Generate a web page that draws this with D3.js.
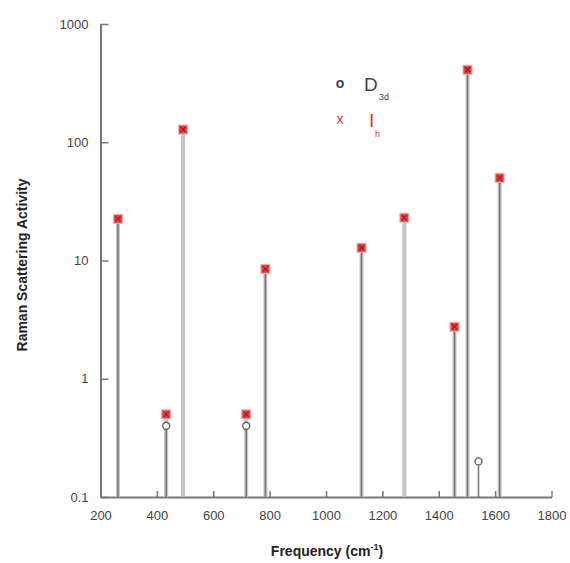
<!DOCTYPE html>
<html><head><meta charset="utf-8">
<script src="https://cdn.jsdelivr.net/npm/d3@7"></script>
<style>body{margin:0;background:#fff}svg{display:block}text{font-family:"Liberation Sans",Arial,sans-serif}</style>
</head><body>
<script>
// Data
const ihFreq = [262, 433, 493, 717, 785, 1126, 1278, 1456, 1502, 1616];
const ihValue = [22.5, 0.5, 128, 0.5, 8.5, 12.8, 23, 2.75, 410, 50];
const d3dFreq = [262, 433, 717, 785, 1126, 1456, 1502, 1541, 1616];
const d3dValue = [22.5, 0.4, 0.4, 8.5, 12.8, 2.75, 410, 0.2, 50];
const xTicks = [200, 400, 600, 800, 1000, 1200, 1400, 1600, 1800];
const yTicks = [0.1, 1, 10, 100, 1000];
const yTickLabels = ["0.1", "1", "10", "100", "1000"];

const W = 570, H = 563;
const svg = d3.select("body").append("svg").attr("width", W).attr("height", H);
const x = d3.scaleLinear().domain([200, 1800]).range([100.5, 551.5]);
const y = d3.scaleLog().domain([0.1, 1000]).range([497, 24]);

// Axes
const xAxis = d3.axisBottom(x).tickValues(xTicks).tickFormat(d3.format("d")).tickSizeInner(-6).tickSizeOuter(0).tickPadding(14);
const gx = svg.append("g").attr("transform", `translate(0,${y(0.1)})`).call(xAxis);
gx.selectAll("line").attr("stroke", "#777").attr("stroke-width", 1.5);
gx.select(".domain").attr("stroke", "#777").attr("stroke-width", 2);
gx.selectAll("text").attr("font-size", 13).attr("fill", "#444");

const yAxis = d3.axisLeft(y).tickValues(yTicks).tickFormat((d, i) => yTickLabels[i]).tickSizeInner(-8).tickSizeOuter(0).tickPadding(12);
const gy = svg.append("g").attr("transform", `translate(${x(200)},0)`).call(yAxis);
gy.selectAll("line").attr("stroke", "#777").attr("stroke-width", 1.5);
gy.select(".domain").attr("stroke", "#777").attr("stroke-width", 2);
gy.selectAll("text").attr("font-size", 13).attr("fill", "#444");

// Stems
svg.append("g").selectAll("line").data(ihFreq).join("line")
  .attr("x1", d => x(d)).attr("x2", d => x(d))
  .attr("y1", y(0.1)).attr("y2", (d, i) => y(ihValue[i]))
  .attr("stroke", "#c4c4c4").attr("stroke-width", 4);
svg.append("g").selectAll("line").data(d3dFreq).join("line")
  .attr("x1", d => x(d)).attr("x2", d => x(d))
  .attr("y1", y(0.1)).attr("y2", (d, i) => y(d3dValue[i]))
  .attr("stroke", "#7a7a7a").attr("stroke-width", 1.6);

// D3d markers (circles)
svg.append("g").selectAll("circle").data(d3dFreq).join("circle")
  .attr("cx", d => x(d)).attr("cy", (d, i) => y(d3dValue[i]))
  .attr("r", 3.5).attr("fill", "#fff").attr("stroke", "#555").attr("stroke-width", 1.3);

// Ih markers (red x on red square)
const ihG = svg.append("g").selectAll("g").data(ihFreq).join("g")
  .attr("transform", (d, i) => `translate(${x(d)},${y(ihValue[i])})`);
ihG.append("rect").attr("x", -4.5).attr("y", -4.5).attr("width", 9).attr("height", 9)
  .attr("fill", "#d84848").attr("stroke", "#f2b0b0").attr("stroke-width", 1);
ihG.append("path").attr("d", "M-2.5,-2.5L2.5,2.5M-2.5,2.5L2.5,-2.5")
  .attr("stroke", "#b01818").attr("stroke-width", 1.3);

// Legend
const leg = svg.append("g");
leg.append("text").attr("x", 340).attr("y", 88).attr("text-anchor", "middle").attr("font-size", 14).attr("font-weight", "bold").attr("fill", "#444").text("o");
leg.append("text").attr("x", 364).attr("y", 91).attr("font-size", 19).attr("fill", "#444").text("D");
leg.append("text").attr("x", 379).attr("y", 100).attr("font-size", 9).attr("fill", "#444").text("3d");
leg.append("text").attr("x", 340).attr("y", 124).attr("text-anchor", "middle").attr("font-size", 14).attr("fill", "#e03030").text("x");
leg.append("text").attr("x", 369).attr("y", 127).attr("font-size", 19).attr("fill", "#e03030").text("I");
leg.append("text").attr("x", 375).attr("y", 137).attr("font-size", 9).attr("fill", "#e03030").text("h");

// Axis titles
const xt = svg.append("text").attr("x", 327).attr("y", 556).attr("text-anchor", "middle")
  .attr("font-size", 14).attr("font-weight", "bold").attr("fill", "#222");
xt.append("tspan").text("Frequency (cm");
xt.append("tspan").attr("font-size", 9).attr("dy", -6).text("-1");
xt.append("tspan").attr("dy", 6).text(")");
svg.append("text").attr("transform", "translate(27,265) rotate(-90)").attr("text-anchor", "middle")
  .attr("font-size", 14).attr("font-weight", "bold").attr("fill", "#222").text("Raman Scattering Activity");
</script>
</body></html>
